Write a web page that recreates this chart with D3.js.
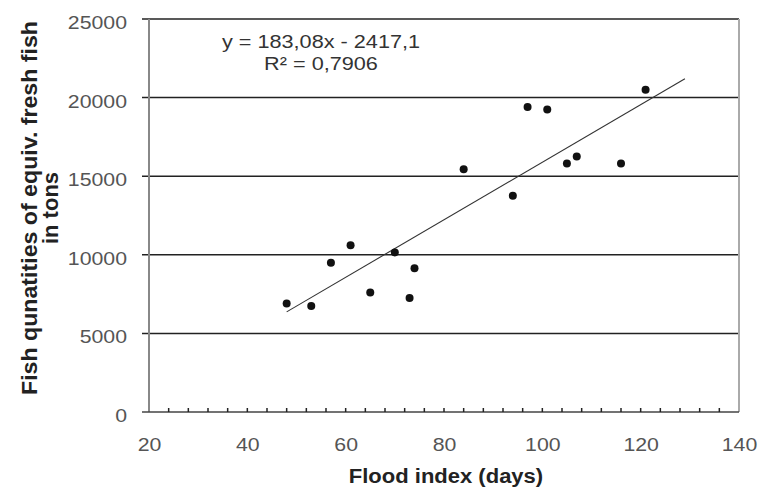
<!DOCTYPE html>
<html>
<head>
<meta charset="utf-8">
<script src="https://cdn.jsdelivr.net/npm/d3@7"></script>
<style>
  body { margin: 0; background: #fff; }
  svg { display: block; }
</style>
</head>
<body>
<svg width="759" height="495"></svg>
<script>
// flood index (days) vs fish quantities (tons)
const floodDays = [48, 53, 57, 61, 65, 70, 73, 74, 84, 94, 97, 101, 105, 107, 116, 121];
const fishTons = [6900, 6750, 9500, 10600, 7600, 10150, 7250, 9150, 15450, 13750, 19400, 19250, 15800, 16250, 15800, 20500];
const xTicks = [20, 40, 60, 80, 100, 120, 140];
const yTicks = [0, 5000, 10000, 15000, 20000, 25000];
const trendSlope = 183.08;
const trendIntercept = -2417.1;
const trendRange = [48, 129];
const eqLabel = "y = 183,08x - 2417,1";
const r2Label = "R² = 0,7906";

const svg = d3.select("svg");
const margin = {top: 19, right: 20, bottom: 83, left: 149};
const w = 759 - margin.left - margin.right;
const h = 495 - margin.top - margin.bottom;
const font = "Liberation Sans, Arial, sans-serif";

// the source picture is a bit wider than tall, so stretch text sideways
function stretch(sel, k) {
  sel.each(function() {
    const len = this.getComputedTextLength();
    d3.select(this).attr("textLength", len * k).attr("lengthAdjust", "spacingAndGlyphs");
  });
}

const g = svg.append("g").attr("transform", `translate(${margin.left},${margin.top})`);

const x = d3.scaleLinear().domain([20, 140]).range([0, w]);
const y = d3.scaleLinear().domain([0, 25000]).range([h, 0]);

// horizontal grid lines (stick out a bit left of axis)
g.selectAll(".grid")
  .data(yTicks.slice(1))
  .enter().append("line")
  .attr("class", "grid")
  .attr("x1", -7).attr("x2", w)
  .attr("y1", d => y(d)).attr("y2", d => y(d))
  .attr("stroke", "#222")
  .attr("stroke-width", 1.5);

// left axis line + right border
g.append("line").attr("x1", 0).attr("x2", 0).attr("y1", 0).attr("y2", h)
  .attr("stroke", "#888").attr("stroke-width", 2);
g.append("line").attr("x1", w).attr("x2", w).attr("y1", 0).attr("y2", h)
  .attr("stroke", "#aaa").attr("stroke-width", 2);

// bottom axis line
g.append("line").attr("x1", -7).attr("x2", w).attr("y1", h).attr("y2", h)
  .attr("stroke", "#444").attr("stroke-width", 1.5);

// minor ticks on x axis
g.selectAll(".minor")
  .data(d3.range(24, 140, 4))
  .enter().append("line")
  .attr("class", "minor")
  .attr("x1", d => x(d)).attr("x2", d => x(d))
  .attr("y1", h).attr("y2", h - 4)
  .attr("stroke", "#222")
  .attr("stroke-width", 1.5);

const yAxis = g.append("g")
  .call(d3.axisLeft(y).tickValues(yTicks).tickFormat(d3.format("d")).tickSize(0).tickPadding(22));
yAxis.select(".domain").remove();
yAxis.selectAll("text").attr("dy", "0.5em");

const xAxis = g.append("g")
  .attr("transform", `translate(0,${h})`)
  .call(d3.axisBottom(x).tickValues(xTicks).tickSize(0).tickPadding(26));
xAxis.select(".domain").remove();

svg.selectAll(".tick text")
  .attr("font-family", font)
  .attr("font-size", 19)
  .attr("fill", "#555");
stretch(svg.selectAll(".tick text"), 1.12);

// trend line
g.append("line")
  .attr("x1", x(trendRange[0]))
  .attr("y1", y(trendSlope * trendRange[0] + trendIntercept))
  .attr("x2", x(trendRange[1]))
  .attr("y2", y(trendSlope * trendRange[1] + trendIntercept))
  .attr("stroke", "#333")
  .attr("stroke-width", 1.1);

// points
g.selectAll(".dot")
  .data(floodDays)
  .enter().append("circle")
  .attr("class", "dot")
  .attr("cx", d => x(d))
  .attr("cy", (d, i) => y(fishTons[i]))
  .attr("r", 4)
  .attr("fill", "#111");

// equation
const eq = g.selectAll(".eq")
  .data([[eqLabel, 29], [r2Label, 51]])
  .enter().append("text")
  .attr("class", "eq")
  .attr("x", 172).attr("y", d => d[1])
  .attr("text-anchor", "middle")
  .attr("font-family", font)
  .attr("font-size", 19)
  .attr("fill", "#333")
  .text(d => d[0]);
stretch(eq, 1.14);

// axis titles
const xTitle = svg.append("text")
  .attr("x", 446).attr("y", 483)
  .attr("text-anchor", "middle")
  .attr("font-family", font)
  .attr("font-weight", "bold")
  .attr("font-size", 20)
  .attr("fill", "#222")
  .text("Flood index (days)");
stretch(xTitle, 1.1);

const yTitle = svg.append("text")
  .attr("transform", "translate(0,208) rotate(-90)")
  .attr("text-anchor", "middle")
  .attr("font-family", font)
  .attr("font-weight", "bold")
  .attr("font-size", 22)
  .attr("fill", "#222");
yTitle.append("tspan").attr("x", 0).attr("y", 37)
  .attr("textLength", 374).attr("lengthAdjust", "spacingAndGlyphs")
  .text("Fish qunatities of equiv. fresh fish");
yTitle.append("tspan").attr("x", 0).attr("y", 58).text("in tons");
</script>
</body>
</html>
